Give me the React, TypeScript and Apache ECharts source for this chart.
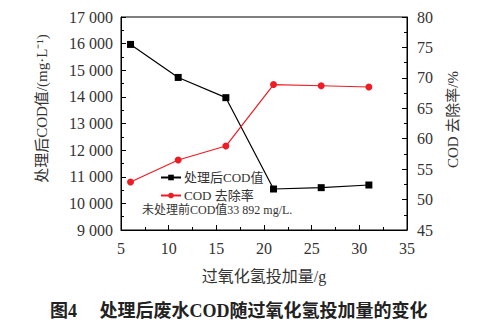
import React, { useEffect, useRef } from "react";
import * as echarts from "echarts";

const dosage = [6, 11, 16, 21, 26, 31];
const codAfter = [15970, 14730, 13970, 10540, 10590, 10690];
const removalRate = [52.9, 56.5, 58.8, 68.9, 68.7, 68.5];
const seriesNames = ["处理后COD值", "COD 去除率"];
const noteText = "未处理前COD值33 892 mg/L.";
const xName = "过氧化氢投加量/g";
const yLeftName = "处理后COD值/(mg·L⁻¹)";
const yRightName = "COD 去除率/%";
const caption = "图4　 处理后废水COD随过氧化氢投加量的变化";

const FONT = "'Liberation Serif', 'Times New Roman', 'Noto Sans CJK SC', serif";

export default function App() {
  const ref = useRef<HTMLDivElement>(null);
  useEffect(() => {
    const chart = echarts.init(ref.current!, undefined, { renderer: "svg" });
    const fmtThousands = (v: number) => {
      const s = String(Math.round(v));
      return s.length > 3 ? s.slice(0, s.length - 3) + " " + s.slice(-3) : s;
    };
    chart.setOption({
      animation: false,
      textStyle: { fontFamily: FONT, color: "#333" },
      grid: {
        left: 121,
        right: 79,
        top: 17,
        bottom: 101,
        show: true,
        borderColor: "#000",
        borderWidth: 1,
      },
      legend: {
        orient: "vertical",
        left: 155,
        top: 166,
        itemWidth: 20,
        itemHeight: 7,
        itemGap: 5,
        data: seriesNames,
        textStyle: { fontFamily: FONT, fontSize: 13, color: "#333", padding: [0, 0, 0, -2] },
      },
      graphic: [
        {
          type: "text",
          left: 142,
          top: 204,
          style: { text: noteText, font: `12px ${FONT}`, fill: "#333" },
        },
        {
          type: "text",
          left: 50,
          top: 302,
          style: { text: caption, font: `bold 18px ${FONT}`, fill: "#222" },
        },
      ],
      xAxis: {
        type: "value",
        min: 5,
        max: 35,
        interval: 5,
        name: xName,
        nameLocation: "middle",
        nameGap: 38,
        nameTextStyle: { fontFamily: FONT, fontSize: 16, color: "#333" },
        axisLine: { show: true, lineStyle: { color: "#000" } },
        axisTick: { show: true, inside: true, length: 5, lineStyle: { color: "#000" } },
        minorTick: { show: true, splitNumber: 2, length: 3, lineStyle: { color: "#000" } },
        splitLine: { show: false },
        axisLabel: { fontFamily: FONT, fontSize: 16, color: "#333", margin: 10 },
      },
      yAxis: [
        {
          type: "value",
          min: 9000,
          max: 17000,
          interval: 1000,
          name: yLeftName,
          nameLocation: "middle",
          nameRotate: 90,
          nameGap: 72,
          nameTextStyle: { fontFamily: FONT, fontSize: 15, color: "#333", padding: [0, 0, 0, 30] },
          axisLine: { show: true, lineStyle: { color: "#000" } },
          axisTick: { show: true, inside: true, length: 5, lineStyle: { color: "#000" } },
          minorTick: { show: true, splitNumber: 2, length: 3, lineStyle: { color: "#000" } },
          splitLine: { show: false },
          axisLabel: { fontFamily: FONT, fontSize: 16, color: "#333", margin: 8, formatter: fmtThousands },
        },
        {
          type: "value",
          min: 45,
          max: 80,
          interval: 5,
          name: yRightName,
          nameLocation: "middle",
          nameRotate: 90,
          nameGap: 38,
          nameTextStyle: { fontFamily: FONT, fontSize: 15, color: "#333", padding: [0, 0, 0, 8] },
          axisLine: { show: true, lineStyle: { color: "#000" } },
          axisTick: { show: true, inside: true, length: 5, lineStyle: { color: "#000" } },
          minorTick: { show: true, splitNumber: 2, length: 3, lineStyle: { color: "#000" } },
          splitLine: { show: false },
          axisLabel: { fontFamily: FONT, fontSize: 16, color: "#333", margin: 10 },
        },
      ],
      series: [
        {
          name: seriesNames[0],
          type: "line",
          yAxisIndex: 0,
          data: dosage.map((x, i) => [x, codAfter[i]]),
          symbol: "rect",
          symbolSize: 7,
          itemStyle: { color: "#000" },
          lineStyle: { color: "#000", width: 1.2 },
        },
        {
          name: seriesNames[1],
          type: "line",
          yAxisIndex: 1,
          data: dosage.map((x, i) => [x, removalRate[i]]),
          symbol: "circle",
          symbolSize: 7,
          itemStyle: { color: "#ee1c25" },
          lineStyle: { color: "#ee1c25", width: 1.2 },
        },
      ],
    });
    return () => chart.dispose();
  }, []);
  return <div ref={ref} style={{ width: 486, height: 331, position: "absolute", left: 0, top: 0, background: "#fff" }} />;
}
